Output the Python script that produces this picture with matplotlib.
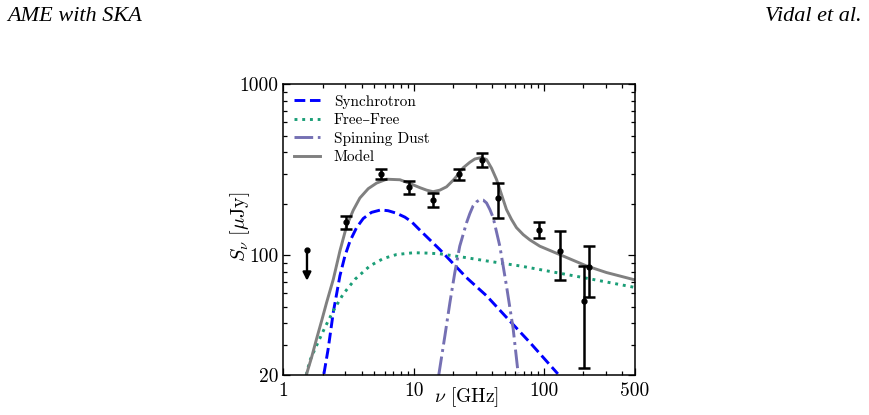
import matplotlib
matplotlib.use("Agg")
import matplotlib.pyplot as plt
import numpy as np
from matplotlib.ticker import FixedLocator, NullFormatter, LogLocator

# ---------------- data ----------------
# measured flux densities (GHz, uJy)
obs_freq = [3.03, 5.58, 9.16, 14.2, 22.2, 33.3, 44.2, 92.2, 133, 203, 220]
obs_flux = [156, 299, 250, 211, 297, 361, 215, 141, 105.5, 54, 85]
obs_err = [13, 20, 23, 19, 23, 32, 51, 15, 33.5, 32, 28]

# upper limit
lim_freq = [1.52]
lim_flux = [108]
lim_arrow_to = [71]

# model components
sync_freq = [2.05, 2.21, 2.42, 2.72, 2.97, 3.25, 3.65, 4.11, 4.75, 5.6, 6.38, 7.39, 8.57, 9.64,
             11.2, 15.9, 25.5, 36.3, 51.6, 78, 128]
sync_flux = [20.3, 28.4, 46.5, 75.9, 99, 121, 145, 164, 178, 184, 182, 176, 167, 157,
             140, 108, 74, 58, 43.4, 31, 20.3]

ff_freq = [1.50, 1.60, 1.80, 2.09, 2.42, 2.88, 3.55, 4.62, 5.85, 7.40, 10.0, 12.6, 15.9, 25, 36.3,
           65.3, 132, 212, 500]
ff_flux = [20, 24.3, 29.7, 38.0, 47.4, 59.3, 72.4, 86.7, 95.7, 101, 103.5, 103, 102, 97, 92.7,
           86.7, 78.6, 73.5, 64.9]

sd_freq = [15.6, 17.4, 19.0, 20.7, 22.6, 25.5, 27.0, 28.6, 30.4, 32.2, 34.2, 36.3, 38.5, 40.8,
           45.9, 51.6, 58.1, 63.4]
sd_flux = [20.0, 34, 53, 79, 113, 155, 175, 194, 205, 211, 210, 202, 185, 166,
           113, 66.4, 37.2, 20.5]

model_freq = [1.51, 1.65, 1.80, 1.97, 2.15, 2.42, 2.72, 3.06, 3.44, 3.87, 4.49, 5.2, 6.2, 7.85,
              9.09, 11.2, 12.6, 14.1, 15.9, 17.9, 20.1, 22.0, 24.0, 27.0, 29.5, 33.2, 36.3,
              39.6, 43.3, 47.3, 51.6, 56.4, 61.6, 69.4, 78, 93, 132, 212, 302, 500]
model_flux = [20.3, 25.4, 32.5, 41.5, 53, 72.4, 106, 148, 183, 216, 245, 264, 278, 276,
              265, 248, 240, 235, 240, 251, 274, 296, 324, 349, 365, 372, 362,
              323, 277, 226, 185, 162, 145, 132, 123, 113, 101, 86.7, 79.3, 71.8]

x_ticks = [1, 10, 100, 500]
x_ticklabels = ["1", "10", "100", "500"]
y_ticks = [20, 100, 1000]
y_ticklabels = ["20", "100", "1000"]

# ---------------- style ----------------
plt.rcParams["font.family"] = ["cmr10", "DejaVu Serif"]
plt.rcParams["mathtext.fontset"] = "cm"
plt.rcParams["axes.formatter.use_mathtext"] = True

fig = plt.figure(figsize=(8.69, 4.15), dpi=100)
ax = fig.add_axes([0.326, 0.0964, 0.4047, 0.7012])

ax.plot(sync_freq, sync_flux, color="#0000ff", lw=2.1, ls="--", label="Synchrotron")
ax.plot(ff_freq, ff_flux, color="#1b9e77", lw=2.1, ls=":", label="Free\u2013Free")
ax.plot(sd_freq, sd_flux, color="#7570b3", lw=2.1, ls="-.", label="Spinning Dust")
ax.plot(model_freq, model_flux, color="#808080", lw=2.1, ls="-", label="Model")

ax.errorbar(obs_freq, obs_flux, yerr=obs_err, fmt="o", color="black", ms=3.5,
            elinewidth=1.8, capsize=4.5, capthick=1.8, zorder=5)

for f, v, t in zip(lim_freq, lim_flux, lim_arrow_to):
    ax.plot([f], [v], "o", color="black", ms=3.5, zorder=5)
    ax.annotate("", xy=(f, t), xytext=(f, v),
                arrowprops=dict(arrowstyle="-|>", color="black", lw=1.7,
                                mutation_scale=12, shrinkA=0, shrinkB=0), zorder=5)

ax.set_xscale("log")
ax.set_yscale("log")
ax.set_xlim(1, 500)
ax.set_ylim(20, 1000)

ax.xaxis.set_major_locator(FixedLocator(x_ticks))
ax.set_xticklabels(x_ticklabels)
ax.xaxis.set_minor_locator(LogLocator(base=10, subs=np.arange(2, 10), numticks=20))
ax.xaxis.set_minor_formatter(NullFormatter())
ax.yaxis.set_major_locator(FixedLocator(y_ticks))
ax.set_yticklabels(y_ticklabels)
ax.yaxis.set_minor_locator(LogLocator(base=10, subs=np.arange(2, 10), numticks=20))
ax.yaxis.set_minor_formatter(NullFormatter())

ax.tick_params(which="both", direction="in", top=True, right=True, labelsize=14, width=0.9)
ax.tick_params(which="major", length=5)
ax.tick_params(which="minor", length=3)
ax.tick_params(axis="x", pad=5)
for s in ax.spines.values():
    s.set_linewidth(1.1)

ax.set_xlabel(r"$\nu$ [GHz]", fontsize=14)
ax.xaxis.set_label_coords(0.522, -0.035)
ax.set_ylabel(r"$S_\nu\ [\mu\mathrm{Jy}]$", fontsize=14.5)
ax.yaxis.set_label_coords(-0.09, 0.51)

leg = ax.legend(loc="upper left", frameon=False, fontsize=11, handlelength=1.7,
                handletextpad=0.9, labelspacing=0.3, borderaxespad=0.3)

fig.text(0.008, 0.949, "AME with SKA", fontfamily="Liberation Serif", style="italic",
         fontsize=16, ha="left", va="baseline")
fig.text(0.992, 0.949, "Vidal et al.", fontfamily="Liberation Serif", style="italic",
         fontsize=16, ha="right", va="baseline")

fig.savefig("out.png", dpi=100)
